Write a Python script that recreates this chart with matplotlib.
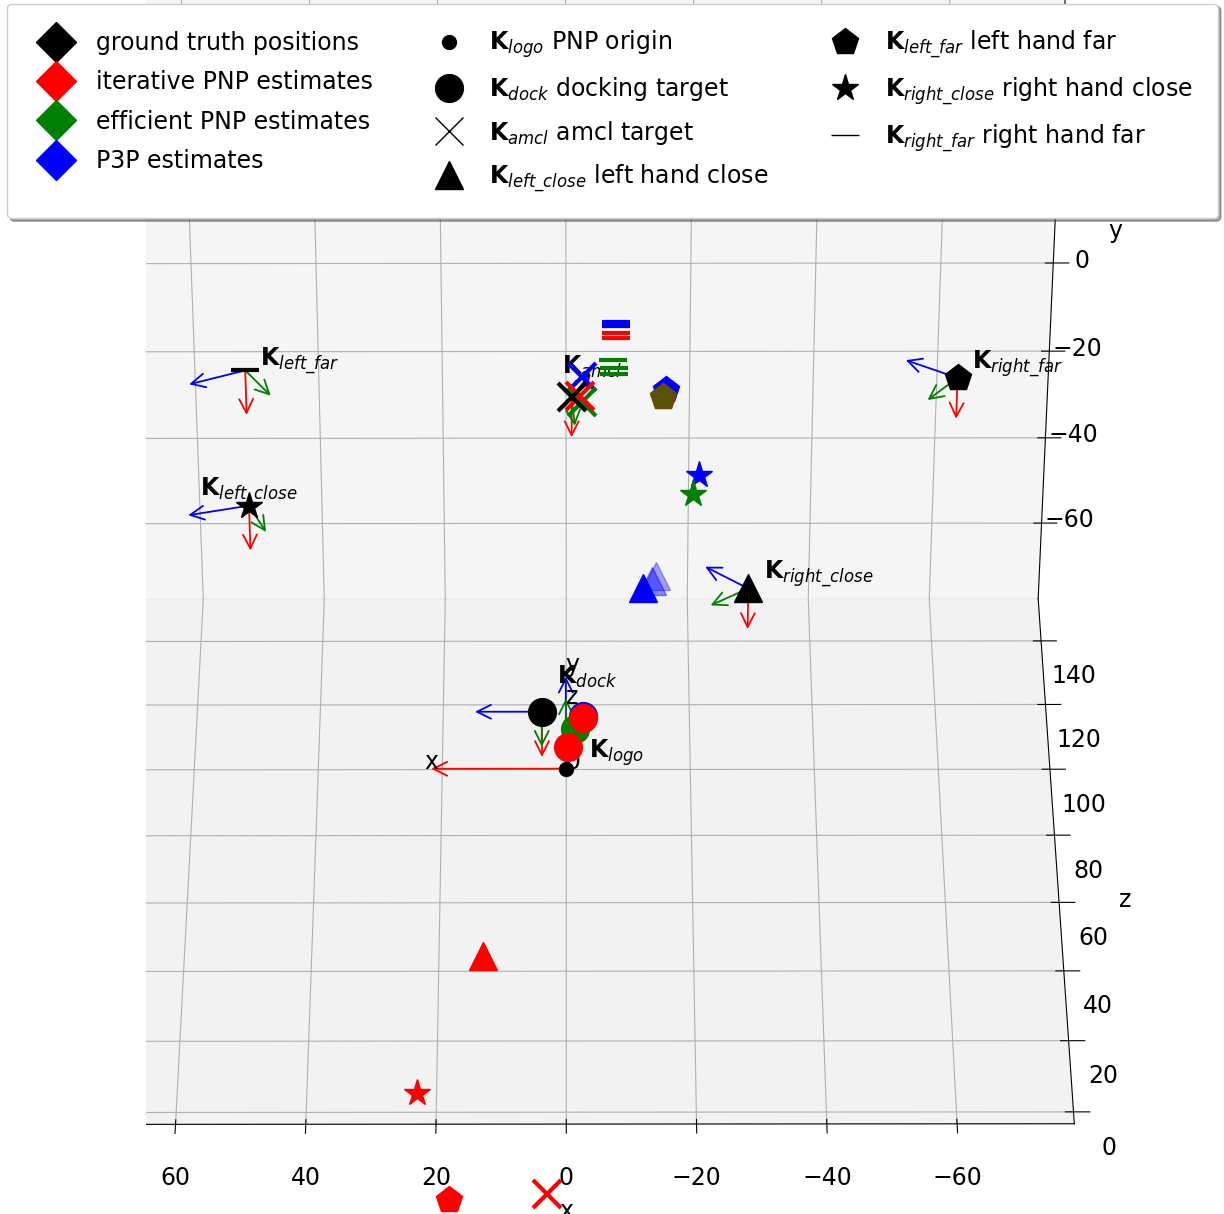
import numpy as np
import matplotlib
matplotlib.use("Agg")
import matplotlib.pyplot as plt
from matplotlib.lines import Line2D
from matplotlib.patches import FancyArrowPatch, Rectangle
from mpl_toolkits.mplot3d import proj3d

plt.rcParams["font.size"] = 17

# Fasit-posisjoner (svart): logo, dock, amcl, left_far, left_close, right_far, right_close
GT_NAVN = ["logo", "dock", "amcl", "left\\_far", "left\\_close", "right\\_far", "right\\_close"]
GT_X = [0.0, 3.6, -0.9, 50.5, 48.9, -61.6, -27.8]
GT_Y = [0.0, 0.0, 0.0, 0.0, 0.0, 0.0, 0.0]
GT_Z = [0.0, 16.2, 110.6, 119.1, 77.1, 116.6, 52.1]
GT_MARK = [".", "o", "x", "_", "*", "p", "^"]

# Koordinatsystem per fasit-punkt (rod, gronn, bla akse), ikke for logo
RAMME_R = [(0, -10, 0), (0, -9, 0), (0, -10, 0), (0, -10, 0), (0, -9.2, 0), (0, -9, 0)]
RAMME_G = [(0, 0, -10), (-0.5, 0, -9), (-4.2, 0, -8), (-2.8, 0, -8), (4.9, 0, -7), (5.8, 0, -5)]
RAMME_B = [(10, 0, 0), (-3, 0, 7.4), (8.7, 0, -4.4), (9.3, 0, -2.9), (8.0, 0, 5.6), (6.5, 0, 6.5)]

# Iterativ PNP (rod)
ITER_X = [-2.6, -0.3, -2.2, -8.0, -8.0, -15.3, 12.0, 21.2, 16.3, 2.6]
ITER_Y = [0.0, 0.0, 0.0, 0.0, 0.0, 0.0, 0.0, 0.0, 0.0, 0.0]
ITER_Z = [14.4, 6.0, 111.0, 130.9, 129.4, 110.6, -51.3, -87.3, -114.5, -113.0]
ITER_MARK = ["o", "o", "x", "_", "_", "p", "^", "*", "p", "x"]
ITER_ALPHA = [1, 1, 1, 1, 1, 0.35, 1, 1, 1, 1]

# Effektiv PNP (gronn)
EPNP_X = [-1.4, -2.5, -7.5, -7.5, -7.5, -15.3, -19.6]
EPNP_Y = [0.0, 0.0, 0.0, 0.0, 0.0, 0.0, 0.0]
EPNP_Z = [11.3, 109.1, 122.4, 119.7, 117.9, 110.6, 80.7]
EPNP_MARK = ["o", "x", "_", "_", "_", "p", "*"]

# P3P (bla)
P3P_X = [-2.6, -2.6, -8.0, -8.0, -15.7, -20.7, -11.8, -13.1, -13.8]
P3P_Y = [0.0, 0.0, 0.0, 0.0, 0.0, 0.0, 0.0, 0.0, 0.0]
P3P_Z = [15.0, 117.0, 134.4, 133.3, 112.9, 86.3, 52.2, 54.4, 55.9]
P3P_MARK = ["o", "x", "_", "_", "p", "*", "^", "^", "^"]
P3P_ALPHA = [1, 1, 1, 1, 1, 1, 1, 0.45, 0.35]

AKSE_LENGDE = 20

# tekstforskyvning (x, z) for etikettene
ETIKETT_DX = [-3.4, -2.3, 1.5, -2.3, 7.7, -2.3, -2.5]
ETIKETT_DZ = [3.0, 8.0, 7.4, 1.5, 3.0, 3.0, 3.0]


class Arrow3D(FancyArrowPatch):
    def __init__(self, xs, ys, zs, *args, **kwargs):
        super().__init__((0, 0), (0, 0), *args, **kwargs)
        self._verts3d = xs, ys, zs

    def do_3d_projection(self, renderer=None):
        xs3d, ys3d, zs3d = self._verts3d
        xs, ys, zs = proj3d.proj_transform(xs3d, ys3d, zs3d, self.axes.M)
        self.set_positions((xs[0], ys[0]), (xs[1], ys[1]))
        return np.min(zs)


def pil(ax, p, v, farge):
    a = Arrow3D([p[0], p[0] + v[0]], [p[1], p[1] + v[1]], [p[2], p[2] + v[2]],
                arrowstyle="->", mutation_scale=25, lw=1.3, color=farge,
                shrinkA=0, shrinkB=0)
    ax.add_artist(a)


def punkt(ax, x, y, z, m, farge, alpha=1.0):
    mew = 3 if m in ("x", "_") else 1
    ax.plot([x], [y], [z], linestyle="None", marker=m, markersize=20,
            color=farge, markeredgewidth=mew, alpha=alpha, clip_on=False)


def main():
    fig = plt.figure(figsize=(12.24, 12.14), dpi=100)
    ax = fig.add_axes([-0.0368, 0.0750, 0.972, 0.980], projection="3d",
                      focal_length=1.3)
    ax.computed_zorder = False
    ax.view_init(elev=-51, azim=90.05)
    ax.set_xlim(-78, 78)
    ax.set_ylim(-78, 78)
    ax.set_zlim(-3.3, 153.5)
    ax.set_box_aspect((1110, 992, 900), zoom=1.294)

    # origo med x/y/z-akser
    pil(ax, (0, 0, 0), (AKSE_LENGDE, 0, 0), "red")
    pil(ax, (0, 0, 0), (0, AKSE_LENGDE, 0), "blue")
    pil(ax, (0, 0, 0), (0, 0, AKSE_LENGDE), "green")
    ax.text(AKSE_LENGDE + 1, 0, 0, "x", zorder=1.5)
    ax.text(0, AKSE_LENGDE * 1.05, 0, "y", zorder=1.5)
    ax.text(0, 0, AKSE_LENGDE * 0.92, "z", zorder=1.5)
    ax.text(0, 0, 0, "0", zorder=1.5)

    # rammer for fasit
    for i in range(1, len(GT_X)):
        p = (GT_X[i], GT_Y[i], GT_Z[i])
        pil(ax, p, RAMME_R[i - 1], "red")
        pil(ax, p, RAMME_G[i - 1], "green")
        pil(ax, p, RAMME_B[i - 1], "blue")

    for x, y, z, m, a in zip(P3P_X, P3P_Y, P3P_Z, P3P_MARK, P3P_ALPHA):
        punkt(ax, x, y, z, m, "blue", a)
    for x, y, z, m in zip(EPNP_X, EPNP_Y, EPNP_Z, EPNP_MARK):
        punkt(ax, x, y, z, m, "green")
    for x, y, z, m, a in zip(ITER_X, ITER_Y, ITER_Z, ITER_MARK, ITER_ALPHA):
        punkt(ax, x, y, z, m, "red", a)
    for x, y, z, m in zip(GT_X, GT_Y, GT_Z, GT_MARK):
        punkt(ax, x, y, z, m, "black")

    for i, navn in enumerate(GT_NAVN):
        ax.text(GT_X[i] + ETIKETT_DX[i], GT_Y[i], GT_Z[i] + ETIKETT_DZ[i],
                r"$\mathbf{K}_{" + navn + "}$", zorder=1.5)

    ax.set_xticks([-60, -40, -20, 0, 20, 40, 60])
    ax.set_yticks([-60, -40, -20, 0])
    ax.set_zticks([0, 20, 40, 60, 80, 100, 120, 140])
    ax.set_xlabel("x", labelpad=10.5)
    ax.set_ylabel("y", labelpad=8.5)
    ax.set_zlabel("z", labelpad=12)
    ax.tick_params(axis="x", pad=7.2)
    ax.tick_params(axis="y", pad=5.5)
    ax.tick_params(axis="z", pad=8)
    ax.xaxis.set_ticks_position("lower")
    ax.xaxis.set_label_position("lower")

    # venstre kant av rammen er klippet i originalen
    klipp = Rectangle((146 / 1224, 0), 1, 1, transform=fig.transFigure)
    for akse in (ax.xaxis, ax.yaxis, ax.zaxis):
        akse.pane.set_clip_path(klipp)
        akse.gridlines.set_clip_path(klipp)
        akse.line.set_clip_path(klipp)

    handles = [
        Line2D([], [], ls="None", marker="D", ms=20, color="black"),
        Line2D([], [], ls="None", marker="D", ms=20, color="red"),
        Line2D([], [], ls="None", marker="D", ms=20, color="green"),
        Line2D([], [], ls="None", marker="D", ms=20, color="blue"),
        Line2D([], [], ls="None", marker=".", ms=20, color="black"),
        Line2D([], [], ls="None", marker="o", ms=20, color="black"),
        Line2D([], [], ls="None", marker="x", ms=20, color="black"),
        Line2D([], [], ls="None", marker="^", ms=20, color="black"),
        Line2D([], [], ls="None", marker="p", ms=20, color="black"),
        Line2D([], [], ls="None", marker="*", ms=20, color="black"),
        Line2D([], [], ls="None", marker="_", ms=20, color="black"),
    ]
    labels = [
        "ground truth positions",
        "iterative PNP estimates",
        "efficient PNP estimates",
        "P3P estimates",
        r"$\mathbf{K}_{logo}$ PNP origin",
        r"$\mathbf{K}_{dock}$ docking target",
        r"$\mathbf{K}_{amcl}$ amcl target",
        r"$\mathbf{K}_{left\_close}$ left hand close",
        r"$\mathbf{K}_{left\_far}$ left hand far",
        r"$\mathbf{K}_{right\_close}$ right hand close",
        r"$\mathbf{K}_{right\_far}$ right hand far",
    ]
    fig.legend(handles, labels, ncol=3, loc="upper left",
               bbox_to_anchor=(0.003, 1.0, 0.995, 0.0), mode="expand",
               borderaxespad=0.15, borderpad=1.05, labelspacing=0.65,
               handletextpad=0.7, fontsize=17, shadow=True, framealpha=1)

    fig.savefig("out.png", dpi=100)
    plt.close(fig)


if __name__ == "__main__":
    main()
